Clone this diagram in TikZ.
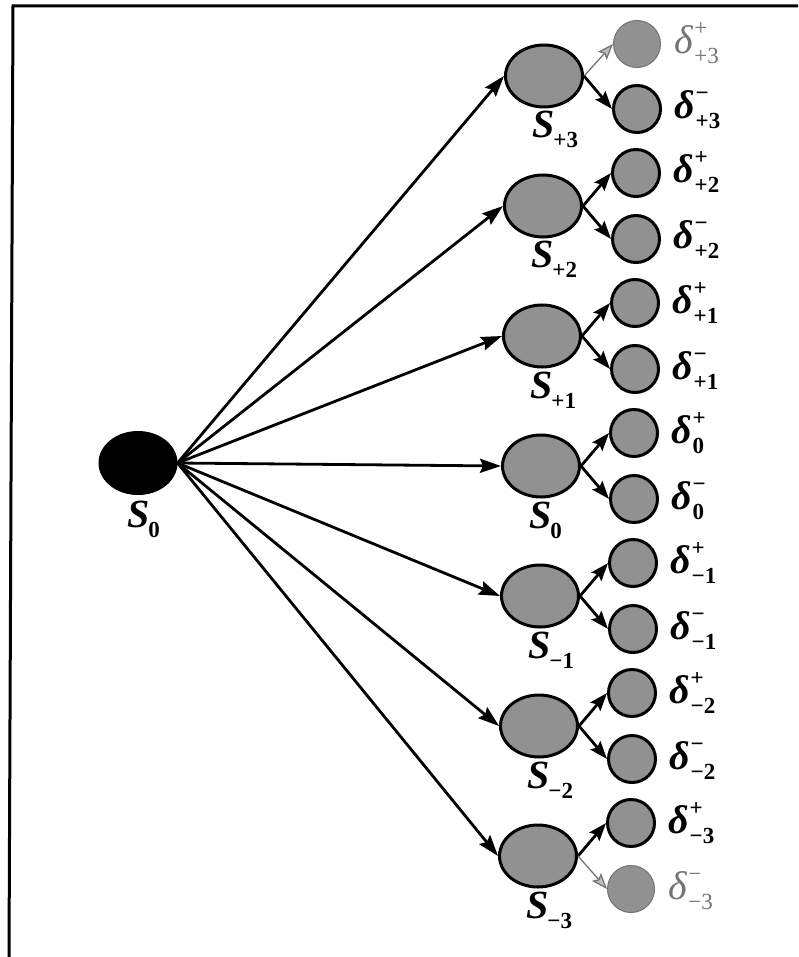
\documentclass[tikz,border=0pt]{standalone}
\usepackage{fontspec}
\setmainfont{Liberation Serif}
\usetikzlibrary{arrows.meta,shapes.geometric}
\definecolor{fg}{gray}{0.57}
\definecolor{lt}{gray}{0.45}
\newcommand\mysz[1]{\fontsize{#1}{#1}\selectfont}
\newcommand\Slab[1]{\mysz{40}\bfseries\textit{S}\kern-1pt\raisebox{-10pt}{\mysz{23}#1}}
\newcommand\Dlab[2]{\mysz{40}\textit{δ}\kern1pt\rlap{\raisebox{18pt}{\mysz{23}#1}}\raisebox{-10pt}{\mysz{23}#2}}
\tikzset{
  ell/.style={ellipse, draw, line width=3pt, fill=fg, minimum width=77pt, minimum height=62pt, inner sep=0pt},
  bigell/.style={ellipse, draw, line width=1pt, fill=black, minimum width=78pt, minimum height=63pt, inner sep=0pt},
  dot/.style={circle, draw, line width=3pt, fill=fg, minimum size=47pt, inner sep=0pt},
  dotlt/.style={circle, draw=lt, line width=1pt, fill=fg, minimum size=47pt, inner sep=0pt},
  lab/.style={anchor=base west, inner sep=0pt},
  labdk/.style={lab, text=black, font=\bfseries},
  lablt/.style={lab, text=lt},
  bigarr/.style={line width=2.8pt, -{Stealth[length=21pt,width=14pt,inset=3pt]}},
  smarr/.style={line width=2.8pt, -{Stealth[length=18pt,width=13pt,inset=3pt]}},
  ltarr/.style={line width=1.3pt, draw=lt, -{Stealth[length=16pt,width=12pt,inset=3pt,fill=black!25]}}
}
\begin{document}
\begin{tikzpicture}[x=1pt,y=-1pt]
\useasboundingbox (0,0) rectangle (798,957);
\draw[line width=3pt] (9,957) -- (13,6) -- (798,6);
\node[bigell] (s0) at (138,463) {};
\node[labdk] (s0l) at (127,527) {\Slab{0}};
\foreach \n/\k/\s in {a/0/+3, b/1/+2, c/2/+1, d/3/0, e/4/−1, f/5/−2, g/6/−3}{
  \pgfmathsetmacro\yy{76+130*\k}
  \pgfmathsetmacro\xx{544-\k}
  \node[ell] (\n) at (\xx,\yy) {};
  \node[labdk] (\n l) at (\xx-12,\yy+62) {\Slab{\s}};
  \ifnum\k=0
    \node[dotlt] (\n p) at (\xx+93,\yy-32) {};
    \node[lablt] (\n pl) at (\xx+130,\yy-22) {\Dlab{+}{\s}};
    \draw[ltarr] (\n.east) -- (\n p.west);
  \else
    \node[dot] (\n p) at (\xx+93,\yy-33) {};
    \node[labdk] (\n pl) at (\xx+130,\yy-23) {\Dlab{+}{\s}};
    \draw[smarr] (\n.east) -- (\n p.west);
  \fi
  \ifnum\k=6
    \node[dotlt] (\n m) at (\xx+93,\yy+33) {};
    \node[lablt] (\n ml) at (\xx+130,\yy+43) {\Dlab{−}{\s}};
    \draw[ltarr] (\n.east) -- (\n m.west);
  \else
    \node[dot] (\n m) at (\xx+93,\yy+33) {};
    \node[labdk] (\n ml) at (\xx+130,\yy+43) {\Dlab{−}{\s}};
    \draw[smarr] (\n.east) -- (\n m.west);
  \fi
  \draw[bigarr] (s0.east) -- (\n.west);
}
\end{tikzpicture}
\end{document}
